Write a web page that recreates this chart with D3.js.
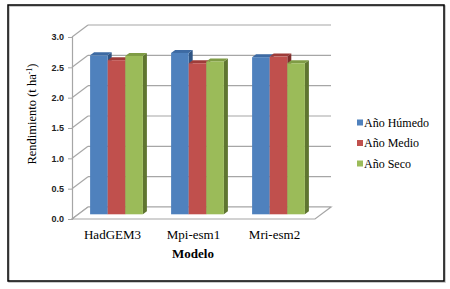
<!DOCTYPE html>
<meta charset="utf-8">
<script src="https://d3js.org/d3.v7.min.js"></script>
<style>
  body { margin: 0; background: #fff; }
</style>
<div id="chart"></div>
<script>

// chart data
var modelos = ["HadGEM3", "Mpi-esm1", "Mri-esm2"];
var series = ["Año Húmedo", "Año Medio", "Año Seco"];
var humedo = [2.62, 2.66, 2.59];
var medio  = [2.54, 2.49, 2.60];
var seco   = [2.61, 2.52, 2.49];
var yTicks = [0, 0.5, 1, 1.5, 2, 2.5, 3];

var values = [humedo, medio, seco];
var colors = {
  front: ["#4f81bd", "#c0504d", "#9bbb59"],
  top:   ["#3d6aa3", "#9e3c39", "#7f9c45"],
  side:  ["#2f5584", "#7f2e2c", "#5f7530"]
};

var serif = "'Liberation Serif'";

var W = 450, H = 289;
var svg = d3.select("#chart").append("svg")
    .attr("width", W).attr("height", H);

// outer frame
svg.append("rect")
    .attr("x", 9).attr("y", 6).attr("width", 436).attr("height", 276)
    .attr("fill", "none").attr("stroke", "#bbb").attr("stroke-width", 1.5);
svg.append("rect")
    .attr("x", 8).attr("y", 5).attr("width", 436).attr("height", 276)
    .attr("fill", "none").attr("stroke", "#000").attr("stroke-width", 1.5);

// front plane scales
var x0 = d3.scaleBand().domain(modelos).range([72, 315]);
var y = d3.scaleLinear().domain([0, 3]).range([219, 37]);

// depth offsets
var depth = {dx: 16, dy: -12};      // back wall
var barOff = {dx: 4, dy: -4.7};     // bar front face
var barDepth = {dx: 4, dy: -3};     // bar thickness
var barW = 17.6;

var grid = "#a6a6a6";

// back wall gridlines
svg.append("g").selectAll("line")
  .data(yTicks)
  .enter().append("line")
    .attr("x1", 72 + depth.dx).attr("x2", 315 + depth.dx)
    .attr("y1", function(d) { return y(d) + depth.dy; })
    .attr("y2", function(d) { return y(d) + depth.dy; })
    .attr("stroke", grid).attr("stroke-width", 1.2);

// side wall diagonals
svg.append("g").selectAll("line")
  .data(yTicks)
  .enter().append("line")
    .attr("x1", 72).attr("x2", 72 + depth.dx)
    .attr("y1", function(d) { return y(d); })
    .attr("y2", function(d) { return y(d) + depth.dy; })
    .attr("stroke", grid).attr("stroke-width", 1.2);

// floor
svg.append("path")
    .attr("d", "M72," + y(0) + "L315," + y(0) +
               "L" + (315 + depth.dx) + "," + (y(0) + depth.dy) +
               "L" + (72 + depth.dx) + "," + (y(0) + depth.dy) + "Z")
    .attr("fill", "#fff").attr("stroke", grid).attr("stroke-width", 1.2);

// front vertical axis
var yAxis = d3.axisLeft(y).tickValues(yTicks).tickSize(4)
    .tickFormat(d3.format(".1f"));
var ag = svg.append("g")
    .attr("transform", "translate(72,0)")
    .call(yAxis);
ag.attr("font-family", null).attr("font-size", null);
ag.select(".domain").attr("stroke", grid).attr("stroke-width", 1.2);
ag.selectAll(".tick line").attr("stroke", grid);
ag.selectAll("text")
    .attr("x", -8)
    .style("font-family", "'Liberation Sans'")
    .style("font-size", "9px")
    .style("font-weight", "bold")
    .attr("fill", "#222");

// bars
var bars = svg.append("g");
modelos.forEach(function(m, i) {
  var gx = x0(m) + (x0.bandwidth() - barW * 3) / 2 + barOff.dx;
  series.forEach(function(s, j) {
    var v = values[j][i];
    var bx = gx + j * barW;
    var by = y(v) + barOff.dy;
    var bb = y(0) + barOff.dy;
    // side face
    bars.append("path")
        .attr("d", "M" + (bx + barW) + "," + by +
                   "L" + (bx + barW + barDepth.dx) + "," + (by + barDepth.dy) +
                   "L" + (bx + barW + barDepth.dx) + "," + (bb + barDepth.dy) +
                   "L" + (bx + barW) + "," + bb + "Z")
        .attr("fill", colors.side[j]);
    // top face
    bars.append("path")
        .attr("d", "M" + bx + "," + by +
                   "L" + (bx + barDepth.dx) + "," + (by + barDepth.dy) +
                   "L" + (bx + barW + barDepth.dx) + "," + (by + barDepth.dy) +
                   "L" + (bx + barW) + "," + by + "Z")
        .attr("fill", colors.top[j]);
    // front face
    bars.append("rect")
        .attr("x", bx).attr("y", by)
        .attr("width", barW).attr("height", bb - by)
        .attr("fill", colors.front[j]);
  });
});

// category labels
svg.append("g").selectAll("text")
  .data(modelos)
  .enter().append("text")
    .attr("x", function(d) { return x0(d) + x0.bandwidth() / 2; })
    .attr("y", 239)
    .attr("text-anchor", "middle")
    .style("font-family", serif)
    .style("font-size", "13px")
    .text(function(d) { return d; });

// x title
svg.append("text")
    .attr("x", 193).attr("y", 258)
    .attr("text-anchor", "middle")
    .style("font-family", serif)
    .style("font-size", "13px")
    .style("font-weight", "bold")
    .text("Modelo");

// y title
var yt = svg.append("text")
    .attr("transform", "translate(36,114) rotate(-90)")
    .attr("text-anchor", "middle")
    .style("font-family", serif)
    .style("font-size", "12.5px");
yt.append("tspan").text("Rendimiento (t ha");
yt.append("tspan").attr("dy", -4).style("font-size", "8px").text("-1");
yt.append("tspan").attr("dy", 4).text(")");

// legend
var leg = svg.append("g").selectAll("g")
  .data(series)
  .enter().append("g")
    .attr("transform", function(d, i) { return "translate(357," + (122.5 + i * 20.5) + ")"; });
leg.append("rect")
    .attr("x", 0).attr("y", -3).attr("width", 6).attr("height", 6)
    .attr("fill", function(d, i) { return colors.front[i]; });
leg.append("text")
    .attr("x", 7).attr("y", 4)
    .style("font-family", serif)
    .style("font-size", "12px")
    .text(function(d) { return d; });

</script>
